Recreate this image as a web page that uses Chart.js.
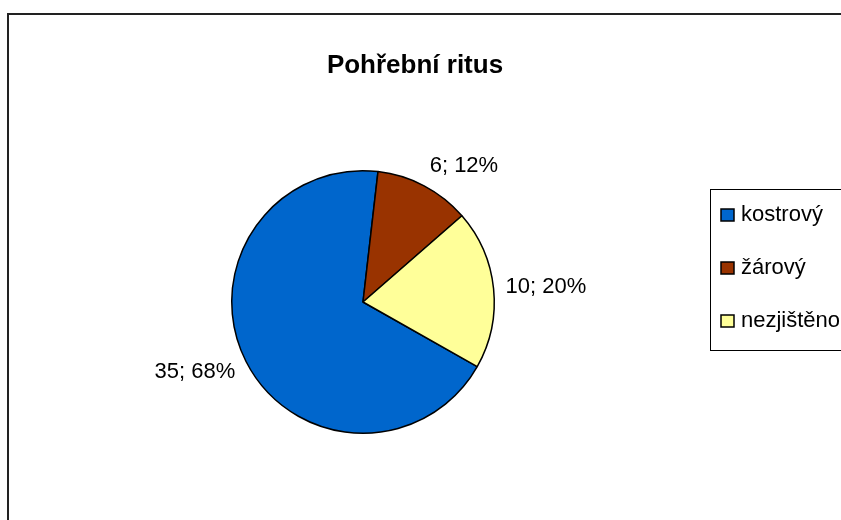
<!DOCTYPE html>
<html>
<head>
<meta charset="utf-8">
<script src="https://cdn.jsdelivr.net/npm/chart.js@4/dist/chart.umd.min.js"></script>
<style>
  body { margin: 0; background: #fff; }
  canvas { display: block; }
</style>
</head>
<body>
<canvas id="ritusChart" width="841" height="520"></canvas>
<script>
const chartTitle = 'Pohřební ritus';
const categories = ['kostrový', 'žárový', 'nezjištěno'];
const counts = [35, 6, 10];
const percents = [68, 12, 20];
const sliceColors = ['#0066CC', '#993300', '#FFFF99'];

const FONT = '"Liberation Sans", Arial, sans-serif';

const excelLook = {
    id: 'excelLook',
    beforeDraw: function (chart) {
        const ctx = chart.ctx;
        ctx.save();
        ctx.fillStyle = '#fff';
        ctx.fillRect(0, 0, chart.width, chart.height);
        // chart frame
        ctx.strokeStyle = '#222';
        ctx.lineWidth = 2;
        ctx.strokeRect(8, 14, chart.width + 20, chart.height + 20);
        ctx.restore();
    },
    afterDraw: function (chart) {
        const ctx = chart.ctx;
        ctx.save();

        // title
        ctx.fillStyle = '#000';
        ctx.font = 'bold 26px ' + FONT;
        ctx.textAlign = 'center';
        ctx.textBaseline = 'alphabetic';
        ctx.fillText(chartTitle, 415, 73);

        // data labels, outside end
        ctx.font = '22px ' + FONT;
        ctx.textAlign = 'center';
        ctx.textBaseline = 'middle';
        const meta = chart.getDatasetMeta(0);
        meta.data.forEach(function (arc, i) {
            const mid = (arc.startAngle + arc.endAngle) / 2;
            const r = arc.outerRadius + 12;
            const px = arc.x + Math.cos(mid) * r;
            const py = arc.y + Math.sin(mid) * r;
            const text = counts[i] + '; ' + percents[i] + '%';
            const w = ctx.measureText(text).width;
            const h = 20;
            const cx = px + Math.sign(Math.cos(mid)) * w / 2;
            const cy = py + Math.sin(mid) * h / 2;
            ctx.fillText(text, cx, cy);
        });

        // legend
        ctx.fillStyle = '#fff';
        ctx.fillRect(710, 189, 200, 161);
        ctx.strokeStyle = '#000';
        ctx.lineWidth = 1;
        ctx.strokeRect(710.5, 189.5, 200, 161);
        ctx.textAlign = 'left';
        categories.forEach(function (name, i) {
            const y = 215 + i * 53;
            ctx.fillStyle = sliceColors[i];
            ctx.fillRect(721, y - 6, 13, 12);
            ctx.strokeStyle = '#000';
            ctx.lineWidth = 1.5;
            ctx.strokeRect(721, y - 6, 13, 12);
            ctx.fillStyle = '#000';
            ctx.fillText(name, 741, y);
        });
        ctx.restore();
    }
};

new Chart(document.getElementById('ritusChart').getContext('2d'), {
    type: 'pie',
    data: {
        labels: categories,
        datasets: [{
            data: counts,
            backgroundColor: sliceColors,
            borderColor: '#000',
            borderWidth: 1.5
        }]
    },
    options: {
        responsive: false,
        animation: false,
        rotation: 119.5,
        layout: {
            padding: { left: 231, right: 346, top: 170, bottom: 86 }
        },
        plugins: {
            legend: { display: false },
            tooltip: { enabled: false },
            title: { display: false }
        }
    },
    plugins: [excelLook]
});
</script>
</body>
</html>
